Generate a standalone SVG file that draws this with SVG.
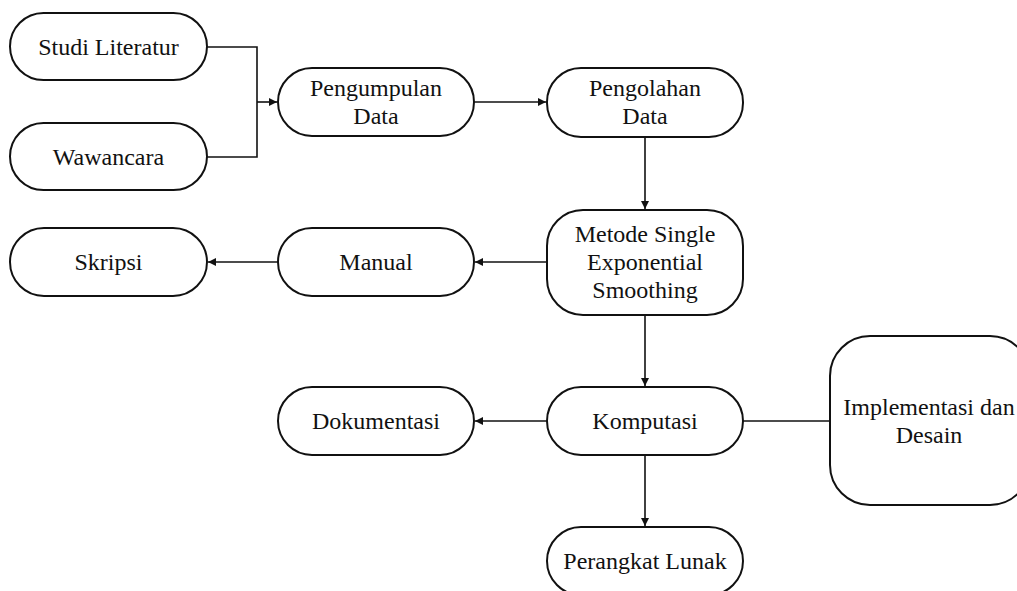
<svg xmlns="http://www.w3.org/2000/svg" width="1017" height="591" viewBox="0 0 1017 591">
<style>
.n{fill:#fff;stroke:#111;stroke-width:2}
.t{font-family:'Liberation Serif',Tinos,'Times New Roman',Times,'DejaVu Serif',serif;font-size:24px;fill:#111;text-anchor:middle}
.c{fill:none;stroke:#111;stroke-width:1.6}
</style>
<defs>
<marker id="ah" markerWidth="10" markerHeight="10" refX="9" refY="5" orient="auto" markerUnits="userSpaceOnUse">
<path d="M1,1 L9,5 L1,9 Z" fill="#111"/>
</marker>
</defs>
<rect width="1017" height="591" fill="#fff"/>
<g id="connectors">
<path class="c" d="M207,47 H257 V157 H207"/>
<path class="c" d="M257,102 H277" marker-end="url(#ah)"/>
<path class="c" d="M474,102 H546" marker-end="url(#ah)"/>
<path class="c" d="M645,137 V209" marker-end="url(#ah)"/>
<path class="c" d="M547,262 H475" marker-end="url(#ah)"/>
<path class="c" d="M278,262 H208" marker-end="url(#ah)"/>
<path class="c" d="M645,315 V386" marker-end="url(#ah)"/>
<path class="c" d="M547,421 H475" marker-end="url(#ah)"/>
<path class="c" d="M743,421 H830"/>
<path class="c" d="M645,455 V526" marker-end="url(#ah)"/>
</g>
<g id="studi-literatur"><rect class="n" x="10" y="13" width="197" height="67" rx="33.5"/><text class="t" x="108.5" y="55">Studi Literatur</text></g>
<g id="wawancara"><rect class="n" x="10" y="123" width="197" height="67" rx="33.5"/><text class="t" x="108.5" y="165">Wawancara</text></g>
<g id="pengumpulan-data"><rect class="n" x="278" y="68" width="196" height="68" rx="34"/><text class="t" x="376" y="96">Pengumpulan</text><text class="t" x="376" y="124">Data</text></g>
<g id="pengolahan-data"><rect class="n" x="547" y="68" width="196" height="69" rx="34"/><text class="t" x="645" y="96">Pengolahan</text><text class="t" x="645" y="124">Data</text></g>
<g id="metode"><rect class="n" x="547" y="210" width="196" height="105" rx="36"/><text class="t" x="645" y="242">Metode Single</text><text class="t" x="645" y="270">Exponential</text><text class="t" x="645" y="298">Smoothing</text></g>
<g id="skripsi"><rect class="n" x="10" y="228" width="197" height="68" rx="34"/><text class="t" x="108.5" y="270">Skripsi</text></g>
<g id="manual"><rect class="n" x="278" y="228" width="196" height="68" rx="34"/><text class="t" x="376" y="270">Manual</text></g>
<g id="dokumentasi"><rect class="n" x="278" y="387" width="196" height="68" rx="34"/><text class="t" x="376" y="429">Dokumentasi</text></g>
<g id="komputasi"><rect class="n" x="547" y="387" width="196" height="68" rx="34"/><text class="t" x="645" y="429">Komputasi</text></g>
<g id="implementasi"><rect class="n" x="830" y="336" width="200" height="169" rx="40"/><text class="t" x="929" y="415">Implementasi dan</text><text class="t" x="929" y="443">Desain</text></g>
<g id="perangkat-lunak"><rect class="n" x="547" y="527" width="196" height="68" rx="34"/><text class="t" x="645" y="569">Perangkat Lunak</text></g>
</svg>
